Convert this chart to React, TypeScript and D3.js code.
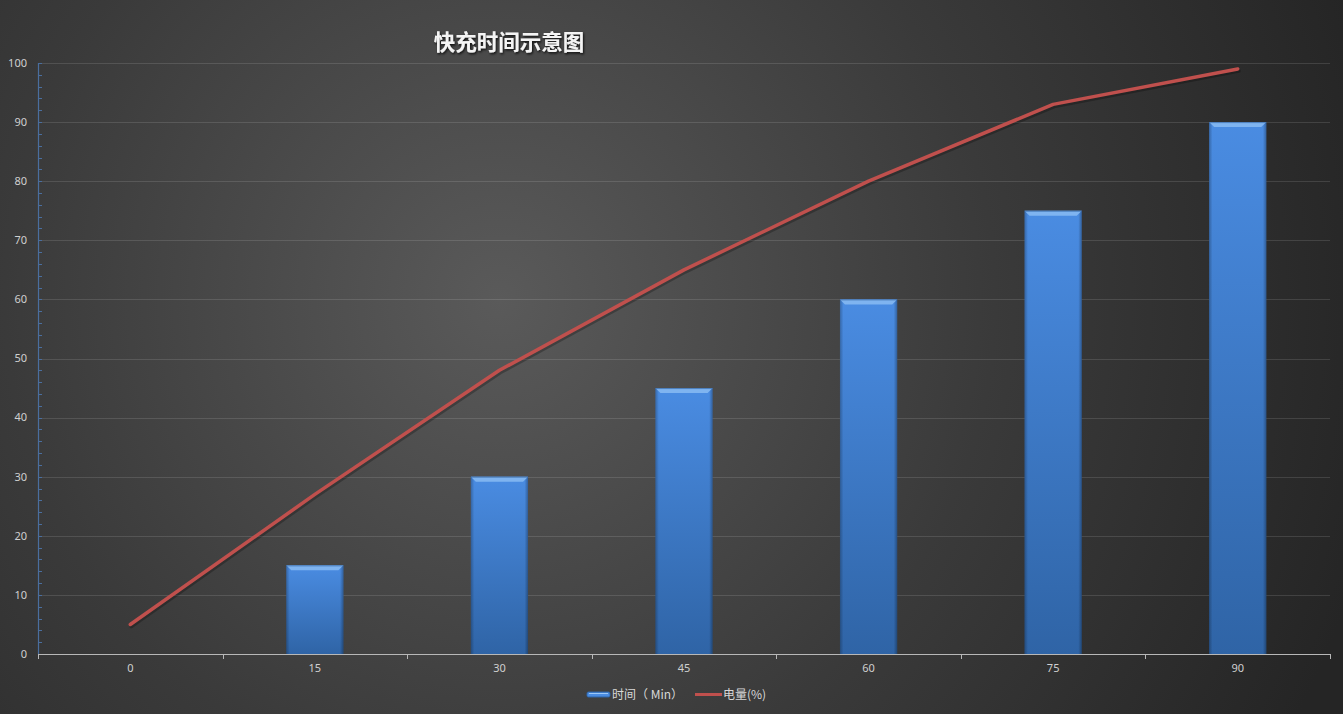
import * as d3 from "d3";
import { useEffect, useRef } from "react";

const categories = ["0", "15", "30", "45", "60", "75", "90"];
const timeValues = [0, 15, 30, 45, 60, 75, 90];
const chargeValues = [5, 27, 48, 65, 80, 93, 99];
const yTicks = [0, 10, 20, 30, 40, 50, 60, 70, 80, 90, 100];

const W = 1343;
const H = 714;
const margin = { top: 63, right: 13, bottom: 60, left: 38 };

export default function App() {
  const svgRef = useRef<SVGSVGElement>(null);

  useEffect(() => {
    if (!svgRef.current) return;
    const svg = d3.select(svgRef.current);
    svg.selectAll("*").remove();

    const defs = svg.append("defs");
    const bg = defs
      .append("radialGradient")
      .attr("id", "bg")
      .attr("gradientUnits", "userSpaceOnUse")
      .attr("cx", 500)
      .attr("cy", 300)
      .attr("r", 900);
    bg.append("stop").attr("offset", "0%").attr("stop-color", "#5a5a5a");
    bg.append("stop").attr("offset", "55%").attr("stop-color", "#3a3a3a");
    bg.append("stop").attr("offset", "100%").attr("stop-color", "#252525");

    const barGrad = defs
      .append("linearGradient")
      .attr("id", "bar")
      .attr("x1", 0)
      .attr("y1", 0)
      .attr("x2", 0)
      .attr("y2", 1);
    barGrad.append("stop").attr("offset", "0%").attr("stop-color", "#4a8ce2");
    barGrad.append("stop").attr("offset", "100%").attr("stop-color", "#2f64a6");

    const sideGrad = defs
      .append("linearGradient")
      .attr("id", "side")
      .attr("x1", 0)
      .attr("y1", 0)
      .attr("x2", 1)
      .attr("y2", 0);
    sideGrad.append("stop").attr("offset", "0%").attr("stop-color", "#000").attr("stop-opacity", 0.25);
    sideGrad.append("stop").attr("offset", "6%").attr("stop-color", "#000").attr("stop-opacity", 0);
    sideGrad.append("stop").attr("offset", "94%").attr("stop-color", "#000").attr("stop-opacity", 0);
    sideGrad.append("stop").attr("offset", "100%").attr("stop-color", "#000").attr("stop-opacity", 0.3);

    const shadow = defs.append("filter").attr("id", "tshadow");
    shadow
      .append("feDropShadow")
      .attr("dx", 1)
      .attr("dy", 1.5)
      .attr("stdDeviation", 1)
      .attr("flood-color", "#000")
      .attr("flood-opacity", 0.8);

    svg.append("rect").attr("width", W).attr("height", H).attr("fill", "url(#bg)");

    const x = d3
      .scaleBand<string>()
      .domain(categories)
      .range([margin.left, W - margin.right])
      .paddingInner(0)
      .paddingOuter(0);
    const y = d3
      .scaleLinear()
      .domain([0, 100])
      .range([H - margin.bottom, margin.top]);

    // gridlines
    svg
      .append("g")
      .selectAll("line")
      .data(yTicks.filter((d) => d > 0))
      .join("line")
      .attr("x1", margin.left)
      .attr("x2", W - margin.right)
      .attr("y1", (d) => Math.round(y(d)) + 0.5)
      .attr("y2", (d) => Math.round(y(d)) + 0.5)
      .attr("stroke", "#ffffff")
      .attr("stroke-opacity", 0.12);

    // y axis
    const yAxis = svg.append("g");
    yAxis
      .append("line")
      .attr("x1", margin.left + 0.5)
      .attr("x2", margin.left + 0.5)
      .attr("y1", y(100))
      .attr("y2", y(0))
      .attr("stroke", "#4a6e9e")
      .attr("stroke-width", 1.2);
    yAxis
      .selectAll("line.minor")
      .data(d3.range(0, 101, 2))
      .join("line")
      .attr("class", "minor")
      .attr("x1", margin.left)
      .attr("x2", margin.left + 4)
      .attr("y1", (d) => Math.round(y(d)) + 0.5)
      .attr("y2", (d) => Math.round(y(d)) + 0.5)
      .attr("stroke", "#4a6e9e");
    yAxis
      .selectAll("text")
      .data(yTicks)
      .join("text")
      .attr("x", margin.left - 11)
      .attr("y", (d) => y(d))
      .attr("dy", "0.35em")
      .attr("text-anchor", "end")
      .attr("fill", "#d0d0d0")
      .attr("font-size", 11)
      .attr("font-family", "'Noto Sans', 'Noto Sans CJK SC', sans-serif")
      .text((d) => d);

    // bars
    const barW = x.bandwidth() * 0.31;
    const bars = svg
      .append("g")
      .selectAll("g")
      .data(timeValues)
      .join("g")
      .attr("transform", (_, i) => `translate(${x(categories[i])! + x.bandwidth() / 2 - barW / 2},0)`);
    bars
      .append("rect")
      .attr("y", (d) => y(d))
      .attr("width", barW)
      .attr("height", (d) => y(0) - y(d))
      .attr("fill", "url(#bar)");
    bars
      .append("rect")
      .attr("y", (d) => y(d))
      .attr("width", barW)
      .attr("height", (d) => y(0) - y(d))
      .attr("fill", "url(#side)");
    bars
      .filter((d) => d > 0)
      .append("path")
      .attr("d", (d) => `M0,${y(d)} H${barW} L${barW - 5},${y(d) + 5} H5 Z`)
      .attr("fill", "#7fb4f0");
    bars
      .filter((d) => d > 0)
      .append("line")
      .attr("x1", 0)
      .attr("x2", barW)
      .attr("y1", (d) => y(d) + 0.5)
      .attr("y2", (d) => y(d) + 0.5)
      .attr("stroke", "#2a5a98")
      .attr("stroke-opacity", 0.6);

    // x axis
    const xAxis = svg.append("g");
    xAxis
      .append("line")
      .attr("x1", margin.left)
      .attr("x2", W - margin.right)
      .attr("y1", Math.round(y(0)) + 0.5)
      .attr("y2", Math.round(y(0)) + 0.5)
      .attr("stroke", "#b8b8b8");
    xAxis
      .selectAll("line.tick")
      .data([...categories.map((c) => x(c)!), W - margin.right])
      .join("line")
      .attr("class", "tick")
      .attr("x1", (d) => Math.round(d) + 0.5)
      .attr("x2", (d) => Math.round(d) + 0.5)
      .attr("y1", y(0))
      .attr("y2", y(0) + 5)
      .attr("stroke", "#b8b8b8");
    xAxis
      .selectAll("text")
      .data(categories)
      .join("text")
      .attr("x", (d) => x(d)! + x.bandwidth() / 2)
      .attr("y", y(0) + 18)
      .attr("text-anchor", "middle")
      .attr("fill", "#d0d0d0")
      .attr("font-size", 11)
      .attr("font-family", "'Noto Sans', 'Noto Sans CJK SC', sans-serif")
      .text((d) => d);

    // line
    const line = d3
      .line<number>()
      .x((_, i) => x(categories[i])! + x.bandwidth() / 2)
      .y((d) => y(d));
    svg
      .append("path")
      .datum(chargeValues)
      .attr("d", line)
      .attr("fill", "none")
      .attr("stroke", "#000")
      .attr("stroke-opacity", 0.25)
      .attr("stroke-width", 4)
      .attr("stroke-linecap", "round")
      .attr("transform", "translate(1,2)");
    svg
      .append("path")
      .datum(chargeValues)
      .attr("d", line)
      .attr("fill", "none")
      .attr("stroke", "#c0504d")
      .attr("stroke-width", 3.5)
      .attr("stroke-linecap", "round")
      .attr("stroke-linejoin", "round");

    // title
    svg
      .append("text")
      .attr("x", 509)
      .attr("y", 50)
      .attr("text-anchor", "middle")
      .attr("fill", "#f4f4f4")
      .attr("font-size", 21.5)
      .attr("font-weight", "bold")
      .attr("font-family", "'Noto Sans CJK SC', sans-serif")
      .attr("filter", "url(#tshadow)")
      .text("快充时间示意图");

    // legend
    const lg = svg.append("g").attr("font-family", "'Noto Sans CJK SC', sans-serif").attr("font-size", 12);
    lg.append("rect")
      .attr("x", 587)
      .attr("y", 692)
      .attr("width", 23)
      .attr("height", 5)
      .attr("rx", 1.5)
      .attr("fill", "#4a8ce2")
      .attr("stroke", "#2f64a6");
    lg.append("line")
      .attr("x1", 589)
      .attr("x2", 608)
      .attr("y1", 693.5)
      .attr("y2", 693.5)
      .attr("stroke", "#9cc8f7");
    lg.append("text")
      .attr("x", 612)
      .attr("y", 699)
      .attr("fill", "#d8d8d8")
      .text("时间（ Min）");
    lg.append("line")
      .attr("x1", 695)
      .attr("x2", 722)
      .attr("y1", 694.5)
      .attr("y2", 694.5)
      .attr("stroke", "#c0504d")
      .attr("stroke-width", 3);
    lg.append("text")
      .attr("x", 723)
      .attr("y", 699)
      .attr("fill", "#d8d8d8")
      .text("电量(%)");
  }, []);

  return (
    <svg
      ref={svgRef}
      width={W}
      height={H}
      style={{ position: "absolute", left: 0, top: 0, display: "block" }}
    />
  );
}
